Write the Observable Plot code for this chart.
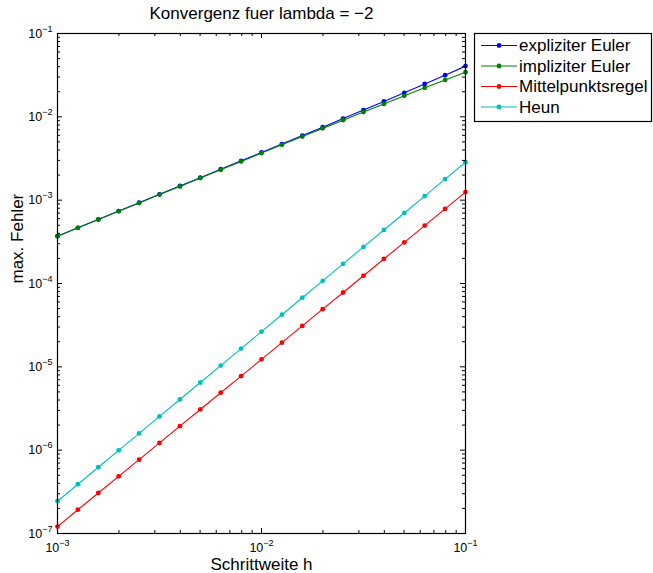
<!DOCTYPE html>
<html><head><meta charset="utf-8">
<script src="https://cdn.jsdelivr.net/npm/d3@7"></script>
<script src="https://cdn.jsdelivr.net/npm/@observablehq/plot@0.6"></script>
<style>
html,body{margin:0;padding:0;background:#fff;}
#wrap{position:relative;width:653px;height:573px;font-family:"Liberation Sans",Arial,Helvetica,sans-serif;}
#wrap svg{display:block;}
#legend{position:absolute;left:473px;top:32px;}
</style></head><body><div id="wrap"></div>
<script>
const titleText = "Konvergenz fuer lambda = \u22122";
const xLabel = "Schrittweite h";
const yLabel = "max. Fehler";
const seriesNames = ["expliziter Euler", "impliziter Euler", "Mittelpunktsregel", "Heun"];
const seriesColors = ["#0000ff", "#008000", "#ff0000", "#00bfbf"];

const h = [0.001, 0.001259, 0.001585, 0.001995, 0.002512, 0.003162, 0.003981, 0.005012, 0.00631, 0.007943,
  0.01, 0.01259, 0.01585, 0.01995, 0.02512, 0.03162, 0.03981, 0.05012, 0.0631, 0.07943, 0.1];
const explEuler = [3.70e-4, 4.66e-4, 5.87e-4, 7.40e-4, 9.31e-4, 1.174e-3, 1.479e-3, 1.863e-3, 2.349e-3, 2.962e-3,
  3.736e-3, 4.715e-3, 5.955e-3, 7.52e-3, 9.52e-3, 1.206e-2, 1.530e-2, 1.944e-2, 2.478e-2, 3.165e-2, 4.06e-2];
const implEuler = [3.70e-4, 4.66e-4, 5.85e-4, 7.37e-4, 9.27e-4, 1.167e-3, 1.462e-3, 1.840e-3, 2.316e-3, 2.916e-3,
  3.673e-3, 4.615e-3, 5.797e-3, 7.27e-3, 9.12e-3, 1.143e-2, 1.430e-2, 1.786e-2, 2.227e-2, 2.769e-2, 3.43e-2];
const mittelpunkt = [1.21e-7, 1.93e-7, 3.06e-7, 4.85e-7, 7.69e-7, 1.222e-6, 1.94e-6, 3.08e-6, 4.89e-6, 7.75e-6,
  1.23e-5, 1.95e-5, 3.10e-5, 4.92e-5, 7.80e-5, 1.24e-4, 1.97e-4, 3.12e-4, 4.95e-4, 7.85e-4, 1.25e-3];
const heun = [2.44e-7, 3.90e-7, 6.24e-7, 9.96e-7, 1.59e-6, 2.54e-6, 4.06e-6, 6.49e-6, 1.036e-5, 1.656e-5,
  2.64e-5, 4.22e-5, 6.75e-5, 1.077e-4, 1.72e-4, 2.75e-4, 4.39e-4, 7.02e-4, 1.12e-3, 1.79e-3, 2.85e-3];

const xMajor = [1e-3, 1e-2, 1e-1];
const yMajor = [1e-7, 1e-6, 1e-5, 1e-4, 1e-3, 1e-2, 1e-1];

const allSeries = [explEuler, implEuler, mittelpunkt, heun];
const rows = allSeries.flatMap((vals, s) => vals.map((v, i) => ({h: h[i], err: v, s: seriesNames[s]})));

function minors(lo, hi) {
  const out = [];
  for (let e = lo; e < hi; e++) for (let m = 2; m <= 9; m++) out.push(m * Math.pow(10, e));
  return out;
}
const xMinor = minors(-3, -1);
const yMinor = minors(-7, -1);

const W = 653, H = 573, mL = 57, mR = 188, mT = 33, mB = 40;
const fw = W - mL - mR, fh = H - mT - mB;
const majLen = 5, minLen = 3;

const lineMarks = seriesNames.flatMap((name, s) => {
  const d = rows.filter(r => r.s === name);
  return [
    Plot.line(d, {x: "h", y: "err", stroke: seriesColors[s], strokeWidth: 1.1}),
    Plot.dot(d, {x: "h", y: "err", fill: seriesColors[s], r: 2.4, stroke: "none"})
  ];
});

const tickLabelFmt = d => "10^" + Math.round(Math.log10(d));

const chart = Plot.plot({
  width: W, height: H,
  marginLeft: mL, marginRight: mR, marginTop: mT, marginBottom: mB,
  style: {fontFamily: "'Liberation Sans', Arial, Helvetica, sans-serif", background: "white", color: "black"},
  x: {type: "log", domain: [1e-3, 1e-1]},
  y: {type: "log", domain: [1e-7, 1e-1]},
  marks: [
    ...lineMarks,
    Plot.tickX(xMajor, {x: d => d, insetTop: fh - majLen, stroke: "black"}),
    Plot.tickX(xMajor, {x: d => d, insetBottom: fh - majLen, stroke: "black"}),
    Plot.tickX(xMinor, {x: d => d, insetTop: fh - minLen, stroke: "black"}),
    Plot.tickX(xMinor, {x: d => d, insetBottom: fh - minLen, stroke: "black"}),
    Plot.tickY(yMajor, {y: d => d, insetRight: fw - majLen, stroke: "black"}),
    Plot.tickY(yMajor, {y: d => d, insetLeft: fw - majLen, stroke: "black"}),
    Plot.tickY(yMinor, {y: d => d, insetRight: fw - minLen, stroke: "black"}),
    Plot.tickY(yMinor, {y: d => d, insetLeft: fw - minLen, stroke: "black"}),
    Plot.frame({stroke: "black", strokeWidth: 1.2}),
    Plot.axisX(xMajor, {tickSize: 0, tickPadding: 10, tickFormat: tickLabelFmt, fontSize: 12.5, label: null}),
    Plot.axisY(yMajor, {tickSize: 0, tickPadding: 5, tickFormat: tickLabelFmt, fontSize: 12.5, label: null}),
    Plot.text([titleText], {frameAnchor: "top", lineAnchor: "middle", dy: -20, fontSize: 17}),
    Plot.text([xLabel], {frameAnchor: "bottom", lineAnchor: "middle", dy: 31, fontSize: 17}),
    Plot.text([yLabel], {frameAnchor: "left", lineAnchor: "middle", rotate: -90, dx: -40, fontSize: 17})
  ]
});

// superscript exponents on tick labels
d3.select(chart).selectAll('g[aria-label="x-axis tick label"] text, g[aria-label="y-axis tick label"] text').each(function() {
  const t = this.textContent;
  const m = t.match(/^10\^(-?\d+)$/);
  if (!m) return;
  const exp = m[1].replace("-", "\u2212");
  const sel = d3.select(this);
  sel.text(null);
  sel.append("tspan").text("10");
  sel.append("tspan").attr("font-size", 9).attr("dy", "-6").text(exp);
});

const wrap = document.getElementById("wrap");
wrap.appendChild(chart);

// legend
const lg = d3.select(wrap).append("svg").attr("id", "legend").attr("width", 180).attr("height", 91);
lg.append("rect").attr("x", 1.5).attr("y", 1.5).attr("width", 177).attr("height", 88)
  .attr("fill", "white").attr("stroke", "black").attr("stroke-width", 1.2);
seriesNames.forEach((name, i) => {
  const y = 13.5 + i * 20.5;
  lg.append("line").attr("x1", 8).attr("x2", 44).attr("y1", y).attr("y2", y)
    .attr("stroke", seriesColors[i]).attr("stroke-width", 1.1);
  lg.append("circle").attr("cx", 26).attr("cy", y).attr("r", 2.4).attr("fill", seriesColors[i]);
  lg.append("text").attr("x", 46).attr("y", y).attr("dy", "0.35em").attr("font-size", 17)
    .attr("font-family", "'Liberation Sans', Arial, sans-serif").text(name);
});
</script>
</body></html>
